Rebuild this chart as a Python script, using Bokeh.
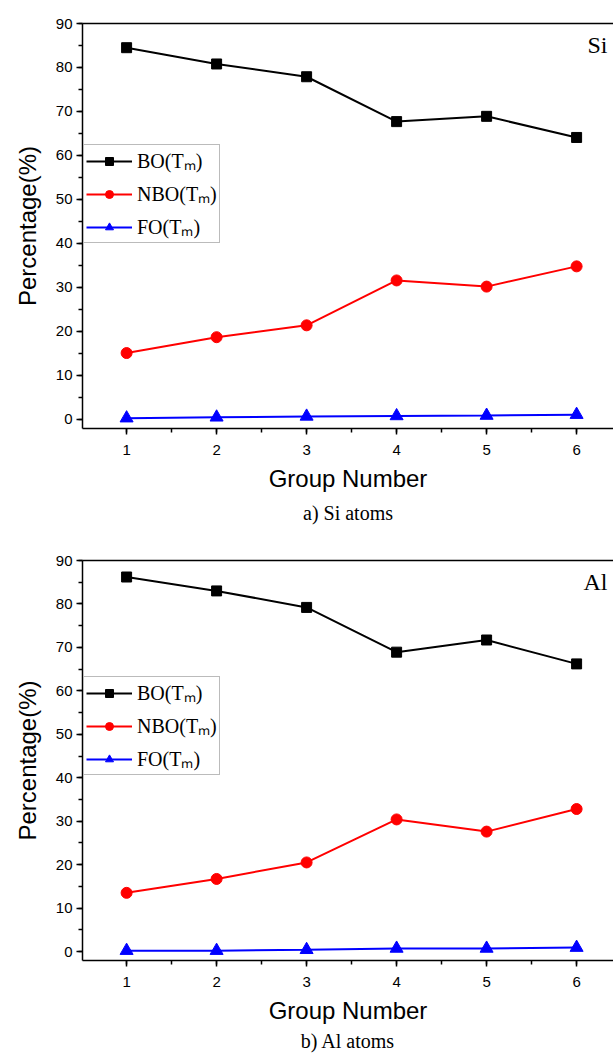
from bokeh.plotting import figure
from bokeh.models import (Legend, LegendItem, LinearAxis, SingleIntervalTicker, FixedTicker,
                          Range1d, Label, Title)
from bokeh.layouts import column
from bokeh.embed import file_html
from bokeh.resources import INLINE

groups = [1, 2, 3, 4, 5, 6]

si_bo = [84.5, 80.8, 77.9, 67.7, 68.9, 64.1]
si_nbo = [15.1, 18.7, 21.4, 31.6, 30.2, 34.8]
si_fo = [0.3, 0.5, 0.7, 0.8, 0.9, 1.1]

al_bo = [86.2, 83.0, 79.2, 68.9, 71.7, 66.2]
al_nbo = [13.5, 16.7, 20.5, 30.4, 27.6, 32.8]
al_fo = [0.2, 0.2, 0.4, 0.7, 0.7, 0.9]

series_labels = ["BO(T\u2098)", "NBO(T\u2098)", "FO(T\u2098)"]

SANS = "Liberation Sans"
SERIF = "Liberation Serif"


def make_panel(bo, nbo, fo, atom_label, caption, height, frame_h, ymin, cap_standoff):
    p = figure(width=613, height=height, output_backend="svg", toolbar_location=None,
               x_range=Range1d(0.51, 6.41), y_range=Range1d(ymin, 90),
               min_border_left=82, min_border_right=0, min_border_top=23,
               min_border_bottom=height - 23 - frame_h)
    p.outline_line_color = None
    p.grid.visible = False
    p.background_fill_color = "white"
    p.border_fill_color = "white"

    p.xaxis.ticker = SingleIntervalTicker(interval=1, num_minor_ticks=2)
    p.yaxis.ticker = SingleIntervalTicker(interval=10, num_minor_ticks=2)
    for ax in (p.xaxis[0], p.yaxis[0]):
        ax.axis_line_width = 1.5
        ax.axis_line_color = "black"
        ax.major_tick_line_width = 1.5
        ax.minor_tick_line_width = 1.5
        ax.major_tick_in = 0
        ax.major_tick_out = 6
        ax.minor_tick_in = 0
        ax.minor_tick_out = 4
        ax.major_label_text_font = SANS
        ax.major_label_text_font_size = "15px"
        ax.major_label_text_color = "black"
        ax.axis_label_text_font = SANS
        ax.axis_label_text_font_size = "24px"
        ax.axis_label_text_font_style = "normal"
        ax.axis_label_text_color = "black"
    p.xaxis.axis_label = "Group Number"
    p.yaxis.axis_label = "Percentage(%)"
    p.xaxis.major_label_standoff = 10
    p.xaxis.axis_label_standoff = 7
    p.yaxis.major_label_standoff = 4
    p.yaxis.axis_label_standoff = 12

    top = LinearAxis(axis_line_width=1.5, axis_line_color="black",
                     major_tick_line_color=None, minor_tick_line_color=None,
                     major_label_standoff=0, ticker=FixedTicker(ticks=[]))
    p.add_layout(top, "above")

    specs = [(bo, "black", "square", 10), (nbo, "red", "circle", 11), (fo, "blue", "triangle", 13)]
    items = []
    for (vals, col, mk, sz), lab in zip(specs, series_labels):
        ln = p.line(groups, vals, line_color=col, line_width=2)
        sc = p.scatter(groups, vals, marker=mk, size=sz, fill_color=col, line_color=col)
        items.append(LegendItem(label=lab, renderers=[ln, sc]))

    leg = Legend(items=items, location=(1, 185), orientation="vertical",
                 label_text_font=SERIF, label_text_font_size="20px",
                 label_text_color="black",
                 glyph_width=46, glyph_height=20, label_height=20, label_standoff=5,
                 spacing=6, padding=2, margin=0,
                 border_line_color="#777777", border_line_width=1,
                 background_fill_color="white", background_fill_alpha=1)
    p.add_layout(leg, "center")

    p.add_layout(Label(x=6.41, y=85, x_offset=-6, text=atom_label, text_align="right",
                       text_baseline="middle", text_font=SERIF, text_font_size="24px",
                       text_color="black"))

    p.add_layout(Title(text=caption, align="center", text_font=SERIF,
                       text_font_size="20px", text_font_style="normal",
                       text_color="black", standoff=cap_standoff), "below")
    return p


pa = make_panel(si_bo, si_nbo, si_fo, "Si", "a) Si atoms", 537, 405, -2.05, 10)
pb = make_panel(al_bo, al_nbo, al_fo, "Al", "b) Al atoms", 516, 400, -2.07, 2)

layout = column(pa, pb, spacing=0)
open("out.html", "w").write(file_html(layout, INLINE))
